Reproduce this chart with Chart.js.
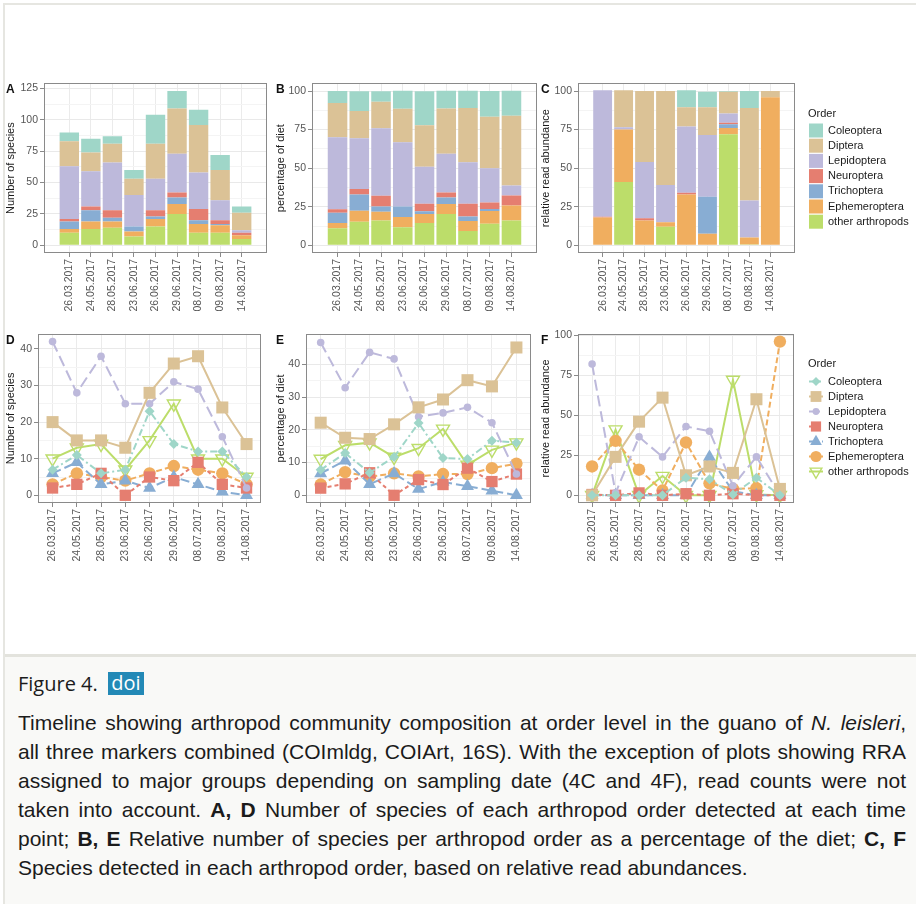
<!DOCTYPE html>
<html>
<head>
<meta charset="utf-8">
<script src="https://cdn.jsdelivr.net/npm/chart.js"></script>
<style>
  body { margin: 0; background: #fff; }
  #page { position: relative; width: 916px; height: 904px; overflow: hidden; background: #fff; font-family: "Liberation Sans", Arial, sans-serif; }
  #frame { position: absolute; left: 3px; top: 3px; right: -2px; bottom: -2px; border-top: 2px solid #e6e6e1; border-left: 2px solid #e6e6e1; }
  #capbox { position: absolute; left: 5px; top: 654px; right: 0; bottom: 0; border-top: 3px solid #e3e3dd; background: #f9f9f7; }
  canvas { position: absolute; }
  .tag { position: absolute; font: bold 12px "Liberation Sans", Arial, sans-serif; color: #111; }
  #figtitle { position: absolute; left: 18px; top: 670px; font: 20px "Open Sans", sans-serif; line-height: 28px; color: #1b1b1b; }
  #doi { position: absolute; left: 108px; top: 672px; width: 36px; height: 23px; background: #2389b6; color: #fff; font: 20px "Open Sans", sans-serif; line-height: 22px; text-align: center; }
  #caption { position: absolute; left: 18px; top: 708px; width: 888px; font-size: 21px; line-height: 29px; color: #1b1b1b; }
  #caption div { text-align: justify; text-align-last: justify; white-space: nowrap; }
  #caption div.last { text-align-last: left; }
</style>
</head>
<body>
<div id="page">
  <div id="frame"></div>
  <div id="capbox"></div>

  <canvas id="chartA" width="270" height="245" style="left:0px;top:75px"></canvas>
  <canvas id="chartB" width="270" height="245" style="left:270px;top:75px"></canvas>
  <canvas id="chartC" width="381" height="245" style="left:535px;top:75px"></canvas>
  <canvas id="chartD" width="270" height="245" style="left:0px;top:325px"></canvas>
  <canvas id="chartE" width="270" height="245" style="left:270px;top:325px"></canvas>
  <canvas id="chartF" width="381" height="245" style="left:535px;top:325px"></canvas>

  <div class="tag" style="left:6px;top:82px">A</div>
  <div class="tag" style="left:276px;top:82px">B</div>
  <div class="tag" style="left:541px;top:82px">C</div>
  <div class="tag" style="left:6px;top:333px">D</div>
  <div class="tag" style="left:276px;top:333px">E</div>
  <div class="tag" style="left:541px;top:333px">F</div>

  <div id="figtitle">Figure 4.</div>
  <div id="doi">doi</div>
  <div id="caption">
    <div>Timeline showing arthropod community composition at order level in the guano of <i>N. leisleri</i>,</div>
    <div>all three markers combined (COImldg, COIArt, 16S). With the exception of plots showing RRA</div>
    <div>assigned to major groups depending on sampling date (4C and 4F), read counts were not</div>
    <div>taken into account. <b>A, D</b> Number of species of each arthropod order detected at each time</div>
    <div>point; <b>B, E</b> Relative number of species per arthropod order as a percentage of the diet; <b>C, F</b></div>
    <div class="last">Species detected in each arthropod order, based on relative read abundances.</div>
  </div>
</div>

<script>
// sampling dates (x axis)
const dates = ['26.03.2017', '24.05.2017', '28.05.2017', '23.06.2017', '26.06.2017',
               '29.06.2017', '08.07.2017', '09.08.2017', '14.08.2017'];
const orders = ['Coleoptera', 'Diptera', 'Lepidoptera', 'Neuroptera', 'Trichoptera', 'Ephemeroptera', 'other arthropods'];

// A, D - number of species
const nColeoptera    = [7, 11, 6, 7, 23, 14, 12, 12, 5];
const nDiptera       = [20, 15, 15, 13, 28, 36, 38, 24, 14];
const nLepidoptera   = [42, 28, 38, 25, 25, 31, 29, 16, 2];
const nNeuroptera    = [2, 3, 6, 0, 5, 4, 9, 3, 2];
const nTrichoptera   = [6, 9, 3, 4, 2, 5, 3, 1, 0];
const nEphemeroptera = [3, 6, 5, 4, 6, 8, 7, 6, 3];
const nOther         = [10, 13, 14, 7, 15, 25, 10, 10, 5];

// B, E - percentage of diet
const pColeoptera    = [7.8, 12.9, 6.9, 11.7, 22.1, 11.4, 11.1, 16.7, 16.1];
const pDiptera       = [22.2, 17.6, 17.2, 21.7, 26.9, 29.3, 35.2, 33.3, 45.2];
const pLepidoptera   = [46.7, 32.9, 43.7, 41.7, 24.0, 25.2, 26.9, 22.2, 6.5];
const pNeuroptera    = [2.2, 3.5, 6.9, 0, 4.8, 3.3, 8.3, 4.2, 6.5];
const pTrichoptera   = [6.7, 10.6, 3.4, 6.7, 1.9, 4.1, 2.8, 1.4, 0];
const pEphemeroptera = [3.3, 7.1, 5.7, 6.7, 5.8, 6.5, 6.5, 8.3, 9.7];
const pOther         = [11.1, 15.3, 16.1, 11.7, 14.4, 20.3, 9.3, 13.9, 16.1];

// C, F - relative read abundance
const rColeoptera    = [0, 0, 0, 0, 11, 10, 0.5, 11, 0];
const rDiptera       = [0, 24, 46, 61, 12.5, 18, 14, 60, 4];
const rLepidoptera   = [82, 1.5, 36.5, 24, 43, 40, 6, 24, 0];
const rNeuroptera    = [0.5, 0, 1.5, 0, 1, 0, 1, 0, 0];
const rTrichoptera   = [0, 0, 0, 0, 0, 24, 2.5, 0, 0];
const rEphemeroptera = [18, 34, 16, 3, 33, 7.5, 4, 4.5, 96];
const rOther         = [0, 41, 0, 12, 0, 0, 72, 0.5, 0];

const colors = {
  'Coleoptera': '#9fd6c8',
  'Diptera': '#dbc296',
  'Lepidoptera': '#bdb9db',
  'Neuroptera': '#e57e70',
  'Trichoptera': '#88add3',
  'Ephemeroptera': '#f0ae5f',
  'other arthropods': '#bcdd6a'
};

// line/point look per order in D, E, F
const lineStyle = {
  'Coleoptera':       { dash: [7, 3, 2, 3], point: 'rectRot', r: 5 },
  'Diptera':          { dash: [], point: 'rect', r: 8.5 },
  'Lepidoptera':      { dash: [11, 5], point: 'circle', r: 3.8 },
  'Neuroptera':       { dash: [4, 3], point: 'rect', r: 8 },
  'Trichoptera':      { dash: [9, 4], point: 'triangle', r: 7.5 },
  'Ephemeroptera':    { dash: [6, 3], point: 'circle', r: 6.2 },
  'other arthropods': { dash: [], point: 'triangle', r: 7.5, rot: 180, hollow: true }
};

const FONT = '"Liberation Sans", Arial, sans-serif';
const tickFont = { family: FONT, size: 10.5 };

const xy = arr => arr.map((v, i) => ({ x: i + 1, y: v }));

function barSets(series) {
  // stacked from bottom: other arthropods ... Coleoptera on top
  const stackOrder = ['other arthropods', 'Ephemeroptera', 'Trichoptera', 'Neuroptera', 'Lepidoptera', 'Diptera', 'Coleoptera'];
  return stackOrder.map(name => ({
    label: name,
    data: xy(series[name]),
    backgroundColor: colors[name],
    borderWidth: 0,
    barPercentage: 0.9,
    categoryPercentage: 1
  }));
}

function lineSets(series) {
  return orders.map(name => {
    const s = lineStyle[name];
    return {
      label: name,
      data: xy(series[name]),
      borderColor: colors[name],
      borderWidth: 2,
      borderDash: s.dash,
      pointStyle: s.point,
      pointRadius: s.r,
      pointRotation: s.rot || 0,
      pointBackgroundColor: s.hollow ? 'rgba(0,0,0,0)' : colors[name],
      pointBorderColor: colors[name],
      pointBorderWidth: s.hollow ? 1.4 : 0,
      fill: false,
      tension: 0
    };
  });
}

function drawMarker(ctx, style, x, y, r, rot) {
  ctx.beginPath();
  if (style === 'circle') {
    ctx.arc(x, y, r, 0, Math.PI * 2);
  } else if (style === 'rect') {
    const s = r * Math.SQRT1_2;
    ctx.rect(x - s, y - s, 2 * s, 2 * s);
  } else if (style === 'rectRot') {
    ctx.moveTo(x, y - r); ctx.lineTo(x + r, y); ctx.lineTo(x, y + r); ctx.lineTo(x - r, y);
    ctx.closePath();
  } else if (style === 'triangle') {
    const d = rot ? -1 : 1;
    ctx.moveTo(x, y - d * r);
    ctx.lineTo(x + 0.866 * r, y + d * 0.5 * r);
    ctx.lineTo(x - 0.866 * r, y + d * 0.5 * r);
    ctx.closePath();
  }
}

// panel border like ggplot theme_bw
const frame = {
  id: 'frame',
  afterDraw(chart) {
    const { ctx, chartArea: a } = chart;
    ctx.save();
    ctx.strokeStyle = '#8a8a8a';
    ctx.lineWidth = 1;
    ctx.strokeRect(Math.round(a.left) + 0.5, Math.round(a.top) + 0.5,
                   Math.round(a.right - a.left) - 1, Math.round(a.bottom - a.top) - 1);
    ctx.restore();
  }
};

// "Order" legend at the right of C and F
const orderLegend = {
  id: 'orderLegend',
  afterDraw(chart, args, opts) {
    if (!opts || !opts.kind) return;
    const ctx = chart.ctx;
    ctx.save();
    ctx.font = '11px ' + FONT;
    ctx.textBaseline = 'middle';
    ctx.fillStyle = '#1a1a1a';
    ctx.fillText('Order', opts.x, opts.y);
    orders.forEach((name, i) => {
      const ds = chart.data.datasets.find(d => d.label === name);
      const cy = opts.y0 + i * opts.dy;
      if (opts.kind === 'box') {
        ctx.fillStyle = ds.backgroundColor;
        ctx.fillRect(opts.x + 1, cy - 7, 14, 14);
      } else {
        const s = lineStyle[name];
        ctx.strokeStyle = ds.borderColor;
        ctx.lineWidth = ds.borderWidth;
        ctx.setLineDash(s.dash);
        ctx.beginPath();
        ctx.moveTo(opts.x + 1, cy);
        ctx.lineTo(opts.x + 15, cy);
        ctx.stroke();
        ctx.setLineDash([]);
        drawMarker(ctx, s.point, opts.x + 8, cy, s.r * 0.9, s.rot);
        if (s.hollow) {
          ctx.lineWidth = 1.4;
          ctx.stroke();
        } else {
          ctx.fillStyle = ds.borderColor;
          ctx.fill();
        }
      }
      ctx.fillStyle = '#1a1a1a';
      ctx.fillText(name, opts.x + 20, cy);
    });
    ctx.restore();
  }
};

function options(o) {
  const isMajor = v => Math.abs(v / o.labelEvery - Math.round(v / o.labelEvery)) < 1e-6;
  return {
    responsive: false,
    animation: false,
    events: [],
    layout: { padding: { left: 0, right: o.padRight, top: 8, bottom: 0 } },
    plugins: {
      legend: { display: false },
      tooltip: { enabled: false },
      orderLegend: o.legend || false
    },
    scales: {
      x: {
        type: 'linear',
        min: 0.4,
        max: 9.6,
        stacked: o.stacked,
        afterFit: s => { s.height = 67; },
        ticks: {
          stepSize: 1,
          includeBounds: false,
          autoSkip: false,
          maxRotation: 90,
          minRotation: 90,
          padding: 2,
          color: '#555',
          font: tickFont,
          callback: v => dates[v - 1] || ''
        },
        grid: { color: '#ebebeb', tickColor: '#8a8a8a', tickLength: 4, offset: false },
        border: { display: false }
      },
      y: {
        min: o.min,
        max: o.max,
        stacked: o.stacked,
        afterFit: s => { s.width = o.yWidth; },
        ticks: {
          stepSize: o.step,
          includeBounds: false,
          padding: 2,
          color: '#555',
          font: tickFont,
          callback: v => isMajor(v) ? v : ''
        },
        grid: {
          color: c => isMajor(c.tick.value) ? '#e9e9e9' : '#f4f4f4',
          tickColor: c => isMajor(c.tick.value) ? '#8a8a8a' : 'rgba(0,0,0,0)',
          tickLength: 4
        },
        border: { display: false },
        title: {
          display: true,
          text: o.title,
          color: '#1a1a1a',
          font: { family: FONT, size: 11 },
          padding: { top: 4, bottom: 0 }
        }
      }
    }
  };
}

const nSeries = { 'Coleoptera': nColeoptera, 'Diptera': nDiptera, 'Lepidoptera': nLepidoptera, 'Neuroptera': nNeuroptera,
                  'Trichoptera': nTrichoptera, 'Ephemeroptera': nEphemeroptera, 'other arthropods': nOther };
const pSeries = { 'Coleoptera': pColeoptera, 'Diptera': pDiptera, 'Lepidoptera': pLepidoptera, 'Neuroptera': pNeuroptera,
                  'Trichoptera': pTrichoptera, 'Ephemeroptera': pEphemeroptera, 'other arthropods': pOther };
const rSeries = { 'Coleoptera': rColeoptera, 'Diptera': rDiptera, 'Lepidoptera': rLepidoptera, 'Neuroptera': rNeuroptera,
                  'Trichoptera': rTrichoptera, 'Ephemeroptera': rEphemeroptera, 'other arthropods': rOther };

const plugins = [frame, orderLegend];

new Chart(document.getElementById('chartA'), {
  type: 'bar',
  data: { datasets: barSets(nSeries) },
  options: options({ min: -6.15, max: 129.15, step: 12.5, labelEvery: 25, title: 'Number of species', yWidth: 44, padRight: 3, stacked: true }),
  plugins
});

new Chart(document.getElementById('chartB'), {
  type: 'bar',
  data: { datasets: barSets(pSeries) },
  options: options({ min: -5, max: 105, step: 12.5, labelEvery: 25, title: 'percentage of diet', yWidth: 42, padRight: 3, stacked: true }),
  plugins
});

new Chart(document.getElementById('chartC'), {
  type: 'bar',
  data: { datasets: barSets(rSeries) },
  options: options({ min: -5, max: 105, step: 12.5, labelEvery: 25, title: 'relative read abundance', yWidth: 43, padRight: 121, stacked: true,
                     legend: { kind: 'box', x: 273, y: 39, y0: 55.5, dy: 15.2 } }),
  plugins
});

new Chart(document.getElementById('chartD'), {
  type: 'line',
  data: { datasets: lineSets(nSeries) },
  options: options({ min: -2.1, max: 44.1, step: 5, labelEvery: 10, title: 'Number of species', yWidth: 38, padRight: 4, stacked: false }),
  plugins
});

new Chart(document.getElementById('chartE'), {
  type: 'line',
  data: { datasets: lineSets(pSeries) },
  options: options({ min: -2.35, max: 49.35, step: 5, labelEvery: 10, title: 'percentage of diet', yWidth: 36, padRight: 4, stacked: false }),
  plugins
});

new Chart(document.getElementById('chartF'), {
  type: 'line',
  data: { datasets: lineSets(rSeries) },
  options: options({ min: -4.8, max: 100.8, step: 12.5, labelEvery: 25, title: 'relative read abundance', yWidth: 43, padRight: 122, stacked: false,
                     legend: { kind: 'line', x: 273, y: 39, y0: 56.5, dy: 15 } }),
  plugins
});
</script>
</body>
</html>
